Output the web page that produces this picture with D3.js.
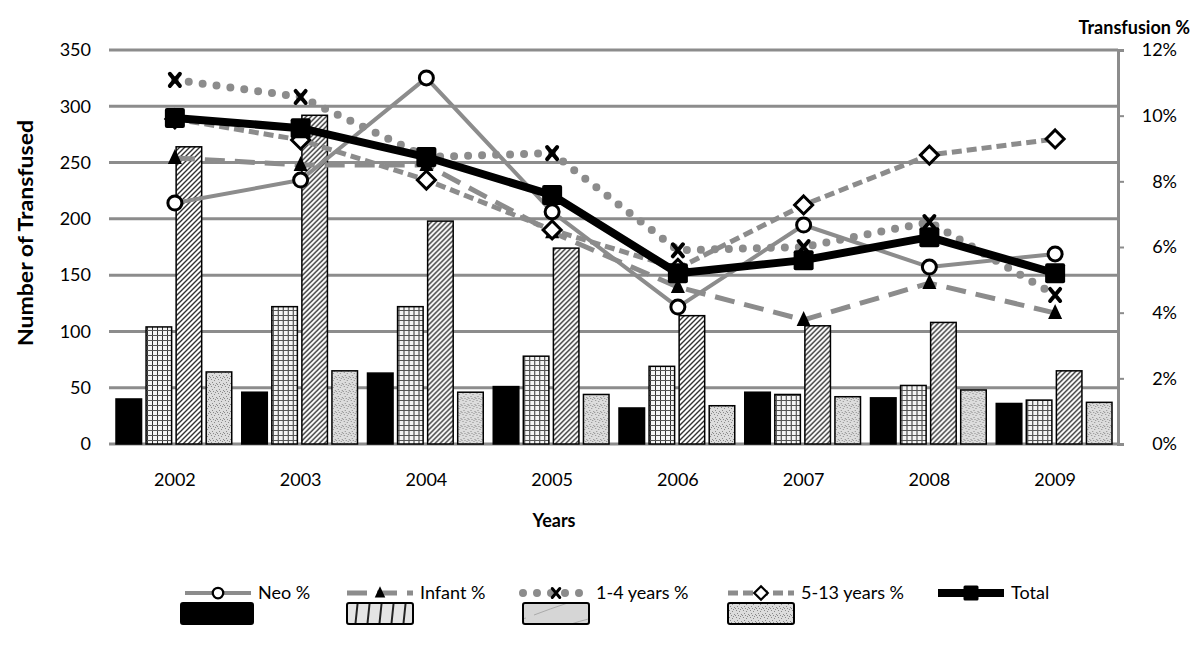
<!DOCTYPE html>
<html>
<head>
<meta charset="utf-8">
<script src="https://cdnjs.cloudflare.com/ajax/libs/d3/7.8.5/d3.min.js"></script>
<style>
  body { margin: 0; background: #fff; }
  text { font-family: Lato, "Open Sans", sans-serif; fill: #000; }
</style>
</head>
<body>
<svg id="chart" width="1200" height="649"></svg>
<script>
// values
const years = ["2002", "2003", "2004", "2005", "2006", "2007", "2008", "2009"];

// bars, left axis (number of transfused)
const neoCount    = [40, 46, 63, 51, 32, 46, 41, 36];
const infantCount = [104, 122, 122, 78, 69, 44, 52, 39];
const childCount  = [264, 292, 198, 174, 114, 105, 108, 65];
const olderCount  = [64, 65, 46, 44, 34, 42, 48, 37];

// lines, right axis (transfusion %)
const neoPct    = [7.34, 8.04, 11.15, 7.07, 4.17, 6.67, 5.39, 5.79];
const infantPct = [8.71, 8.5, 8.5, 6.45, 4.78, 3.78, 4.9, 3.99];
const childPct  = [11.09, 10.57, 8.74, 8.86, 5.9, 6.0, 6.76, 4.54];
const olderPct  = [9.9, 9.26, 8.04, 6.52, 5.35, 7.28, 8.8, 9.29];
const totalPct  = [9.93, 9.62, 8.74, 7.58, 5.2, 5.6, 6.3, 5.2];

const leftTicks = [0, 50, 100, 150, 200, 250, 300, 350];
const rightTicks = [0, 2, 4, 6, 8, 10, 12];

const svg = d3.select("#chart");
const plotLeft = 112, plotRight = 1118, plotTop = 50, plotBottom = 444;
const gridColor = "#8c8c8c";

// patterns for the bars
const defs = svg.append("defs");

let p = defs.append("pattern").attr("id", "plaid")
    .attr("patternUnits", "userSpaceOnUse").attr("width", 5).attr("height", 5);
p.append("rect").attr("width", 5).attr("height", 5).attr("fill", "#f4f4f4");
p.append("path").attr("d", "M0.5,0V5").attr("stroke", "#333").attr("stroke-width", 1);
p.append("path").attr("d", "M0,0.5H5").attr("stroke", "#555").attr("stroke-width", 1);

p = defs.append("pattern").attr("id", "hatch")
    .attr("patternUnits", "userSpaceOnUse").attr("width", 5).attr("height", 5);
p.append("rect").attr("width", 5).attr("height", 5).attr("fill", "#fff");
p.append("path").attr("d", "M-1,1l2,-2M0,5l5,-5M4,6l2,-2")
    .attr("stroke", "#333").attr("stroke-width", 1.4);

p = defs.append("pattern").attr("id", "stipple")
    .attr("patternUnits", "userSpaceOnUse").attr("width", 7).attr("height", 7);
p.append("rect").attr("width", 7).attr("height", 7).attr("fill", "#dcdcdc");
[[1, 1], [4, 2], [2, 4], [6, 5], [5, 0], [0, 6], [3, 6]].forEach(function(d) {
    p.append("rect").attr("x", d[0]).attr("y", d[1]).attr("width", 1).attr("height", 1)
        .attr("fill", "#8a8a8a");
});

p = defs.append("pattern").attr("id", "vstripe")
    .attr("patternUnits", "userSpaceOnUse").attr("width", 12).attr("height", 24)
    .attr("patternTransform", "skewX(-6)");
p.append("rect").attr("width", 12).attr("height", 24).attr("fill", "#e4e4e4");
p.append("path").attr("d", "M1,0V24").attr("stroke", "#222").attr("stroke-width", 2);

p = defs.append("pattern").attr("id", "lightdiag")
    .attr("patternUnits", "userSpaceOnUse").attr("width", 66).attr("height", 22);
p.append("rect").attr("width", 66).attr("height", 22).attr("fill", "#d6d6d6");
p.append("path").attr("d", "M6,21Q40,8 64,2").attr("stroke", "#aaa").attr("fill", "none");

// scales
const x = d3.scaleBand().domain(years).range([plotLeft, plotRight]).padding(0);
const xSub = d3.scaleBand().domain([0, 1, 2, 3]).range([4, x.bandwidth() - 6]).paddingInner(0.15);
const yL = d3.scaleLinear().domain([0, 350]).range([plotBottom, plotTop]);
const yR = d3.scaleLinear().domain([0, 12]).range([plotBottom, plotTop]);

// gridlines
svg.append("g").selectAll("line").data(leftTicks).enter().append("line")
    .attr("x1", plotLeft - 3).attr("x2", plotRight)
    .attr("y1", function(d) { return yL(d); })
    .attr("y2", function(d) { return yL(d); })
    .attr("stroke", gridColor).attr("stroke-width", 3);

// right axis line
const rAxis = svg.append("g").attr("transform", "translate(" + plotRight + ",0)")
    .call(d3.axisRight(yR).tickValues(rightTicks).tickSize(6)
        .tickFormat(function(d) { return d + "%"; }));
rAxis.select(".domain").attr("stroke", gridColor).attr("stroke-width", 3);
rAxis.selectAll(".tick line").attr("stroke", gridColor).attr("stroke-width", 2);
rAxis.selectAll(".tick text").attr("x", 59).attr("text-anchor", "end")
    .style("font-family", "Lato, sans-serif").style("font-size", "18px").attr("fill", "#000");

// left axis labels
const lAxis = svg.append("g").attr("transform", "translate(" + plotLeft + ",0)")
    .call(d3.axisLeft(yL).tickValues(leftTicks).tickSize(0));
lAxis.select(".domain").remove();
lAxis.selectAll(".tick text").attr("x", -21)
    .style("font-family", "Lato, sans-serif").style("font-size", "18px").attr("fill", "#000");

// x labels
const xAxis = svg.append("g").attr("transform", "translate(0," + plotBottom + ")")
    .call(d3.axisBottom(x).tickSize(0));
xAxis.select(".domain").remove();
xAxis.selectAll(".tick text").attr("y", 29)
    .style("font-family", "Lato, sans-serif").style("font-size", "18px").attr("fill", "#000");

// bars
const barSeries = [
    { values: neoCount, fill: "#000" },
    { values: infantCount, fill: "url(#plaid)" },
    { values: childCount, fill: "url(#hatch)" },
    { values: olderCount, fill: "url(#stipple)" }
];

const groups = svg.append("g").selectAll("g").data(years).enter().append("g")
    .attr("transform", function(d) { return "translate(" + x(d) + ",0)"; });

groups.selectAll("rect")
    .data(function(d, i) {
        return barSeries.map(function(s, k) { return { k: k, v: s.values[i], fill: s.fill }; });
    })
    .enter().append("rect")
    .attr("x", function(d) { return xSub(d.k); })
    .attr("width", xSub.bandwidth())
    .attr("y", function(d) { return yL(d.v); })
    .attr("height", function(d) { return plotBottom - yL(d.v); })
    .attr("fill", function(d) { return d.fill; })
    .attr("stroke", "#000")
    .attr("stroke-width", 1.5);

// line series
const lineSeries = [
    { name: "Neo %", values: neoPct, color: gridColor, width: 4, dash: null, marker: "circle" },
    { name: "Infant %", values: infantPct, color: gridColor, width: 5, dash: "20,10", marker: "triangle" },
    { name: "1-4 years %", values: childPct, color: gridColor, width: 8, dash: "0,14", cap: "round", marker: "x" },
    { name: "5-13 years %", values: olderPct, color: gridColor, width: 5, dash: "10,5", marker: "diamond" },
    { name: "Total", values: totalPct, color: "#000", width: 8, dash: null, marker: "square" }
];

function drawMarker(g, type) {
    if (type === "circle") {
        g.append("circle").attr("r", 7).attr("fill", "#fff").attr("stroke", "#000").attr("stroke-width", 3);
    } else if (type === "triangle") {
        g.append("path").attr("d", "M0,-9L7,6H-7Z").attr("fill", "#000");
    } else if (type === "x") {
        g.append("path").attr("d", "M-5,-6L5,6M5,-6L-5,6").attr("stroke", "#000")
            .attr("stroke-width", 4).attr("stroke-linecap", "round");
    } else if (type === "diamond") {
        g.append("path").attr("d", "M0,-9L9,0L0,9L-9,0Z").attr("fill", "#fff")
            .attr("stroke", "#000").attr("stroke-width", 3);
    } else if (type === "square") {
        g.append("rect").attr("x", -10).attr("y", -10).attr("width", 20).attr("height", 20)
            .attr("rx", 2).attr("fill", "#000");
    }
}

const line = d3.line()
    .x(function(d, i) { return x(years[i]) + x.bandwidth() / 2; })
    .y(function(d) { return yR(d); });

lineSeries.forEach(function(s) {
    const path = svg.append("path").datum(s.values)
        .attr("d", line)
        .attr("fill", "none")
        .attr("stroke", s.color)
        .attr("stroke-width", s.width)
        .attr("stroke-linejoin", "round")
        .attr("stroke-linecap", s.cap || "butt");
    if (s.dash) path.attr("stroke-dasharray", s.dash);

    svg.append("g").selectAll("g").data(s.values).enter().append("g")
        .attr("transform", function(d, i) {
            return "translate(" + (x(years[i]) + x.bandwidth() / 2) + "," + yR(d) + ")";
        })
        .each(function() { drawMarker(d3.select(this), s.marker); });
});

// axis titles
svg.append("text")
    .attr("transform", "translate(33,233) rotate(-90)")
    .attr("text-anchor", "middle")
    .attr("textLength", 226).attr("lengthAdjust", "spacingAndGlyphs")
    .style("font-size", "20px").style("font-weight", "bold")
    .text("Number of Transfused");

svg.append("text")
    .attr("x", 554).attr("y", 527)
    .attr("text-anchor", "middle")
    .style("font-size", "18px").style("font-weight", "bold")
    .text("Years");

svg.append("text")
    .attr("x", 1190).attr("y", 34)
    .attr("text-anchor", "end")
    .style("font-size", "18px").style("font-weight", "bold")
    .text("Transfusion %");

// legend, line row
const legendLines = [185, 347, 523, 728, 938];
const legend = svg.append("g");
lineSeries.forEach(function(s, i) {
    const g = legend.append("g").attr("transform", "translate(" + legendLines[i] + ",593)");
    const l = g.append("line").attr("x1", 0).attr("x2", 66)
        .attr("stroke", s.color).attr("stroke-width", s.width)
        .attr("stroke-linecap", s.cap || "butt");
    if (s.dash) l.attr("stroke-dasharray", s.dash);
    drawMarker(g.append("g").attr("transform", "translate(33,0) scale(0.75)"), s.marker);
    g.append("text").attr("x", 73).attr("y", 6)
        .style("font-size", "18px").text(s.name);
});

// legend, bar row (no labels in the original)
const legendBars = [
    { x: 181, fill: "#000" },
    { x: 347, fill: "url(#vstripe)" },
    { x: 523, fill: "url(#lightdiag)" },
    { x: 728, fill: "url(#stipple)" }
];
legend.selectAll("rect.bar").data(legendBars).enter().append("rect")
    .attr("class", "bar")
    .attr("x", function(d) { return d.x; })
    .attr("y", 603)
    .attr("width", function(d, i) { return i === 0 ? 72 : 66; }).attr("height", 21)
    .attr("rx", 2)
    .attr("fill", function(d) { return d.fill; })
    .attr("stroke", "#000").attr("stroke-width", 2);
</script>
</body>
</html>
